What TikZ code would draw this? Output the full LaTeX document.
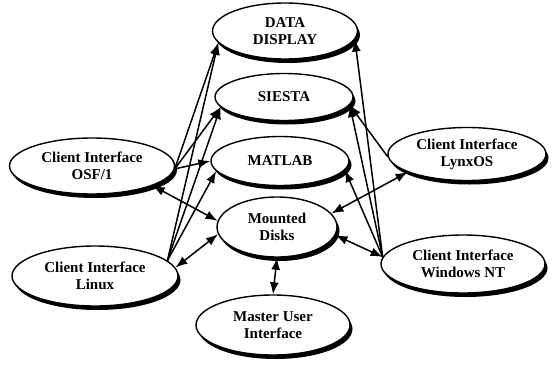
\documentclass[tikz,border=0pt]{standalone}
\usepackage{fontspec}
\setmainfont{Liberation Serif}
\usepackage{tikz}
\usetikzlibrary{positioning,shapes,arrows.meta,shadows}

\tikzset{
  proc/.style={ellipse,draw,line width=1.4pt,fill=white,inner sep=0pt,
    align=center,font=\fontsize{15}{17}\selectfont\bfseries,
    drop shadow={shadow xshift=2.5pt,shadow yshift=-4pt,opacity=1,fill=black}},
  link/.style={line width=1.5pt,-{Latex[length=12pt,width=9pt]}},
  dlink/.style={line width=1.5pt,{Latex[length=12pt,width=9pt]}-{Latex[length=12pt,width=9pt]}}
}

\begin{document}
\begin{tikzpicture}[x=1pt,y=-1pt]
      \useasboundingbox (0,0) rectangle (553,364);

      \node[proc,minimum width=145pt,minimum height=56pt] (data) at (285,31) {DATA\\DISPLAY};
      \node[proc,minimum width=138pt,minimum height=47pt] (siesta) at (284,97) {SIESTA};
      \node[proc,minimum width=138pt,minimum height=49pt] (matlab) at (280,161) {MATLAB};
      \node[proc,minimum width=120pt,minimum height=60pt] (disks) at (277,227) {Mounted\\Disks};
      \node[proc,minimum width=154pt,minimum height=60pt] (master) at (273,325) {Master User\\Interface};
      \node[proc,minimum width=165pt,minimum height=56pt] (osf) at (92,166) {Client Interface\\OSF/1};
      \node[proc,minimum width=166pt,minimum height=60pt] (linux) at (95,276) {Client Interface\\Linux};
      \node[proc,minimum width=158pt,minimum height=53pt] (lynx) at (467,154) {Client Interface\\LynxOS};
      \node[proc,minimum width=164pt,minimum height=58pt] (winnt) at (463,264) {Client Interface\\Windows NT};

      \draw[link] (osf.-2) -- (data.190);
      \draw[link] (osf.-2) -- (siesta.189);
      \draw[link] (osf.-2) -- (matlab.180);
      \draw[dlink] (osf.-18) -- (disks.174);

      \draw[link] (linux.12) -- (data.190);
      \draw[link] (linux.12) -- (siesta.189);
      \draw[link] (linux.12) -- (matlab.189);
      \draw[dlink] (linux.6) -- (disks.187);

      \draw[link] (winnt.175) -- (data.353);
      \draw[link] (winnt.175) -- (siesta.353);
      \draw[link] (winnt.175) -- (matlab.352);
      \draw[dlink] (disks.352) -- (winnt.175);

      \draw[link] (lynx.182) -- (siesta.353);
      \draw[dlink] (disks.14) -- (lynx.197);

      \draw[dlink] (disks.south) -- (master.north);

\end{tikzpicture}
\end{document}
